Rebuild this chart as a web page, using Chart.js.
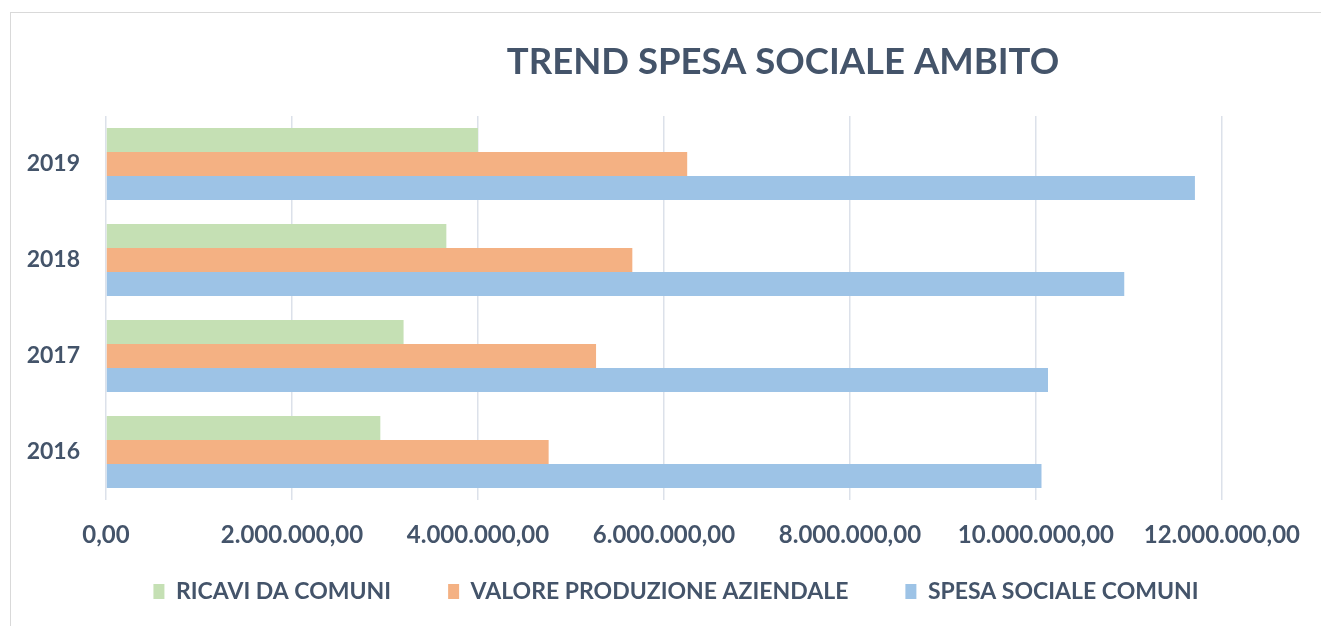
<!DOCTYPE html>
<html>
<head>
<meta charset="utf-8">
<script src="https://cdn.jsdelivr.net/npm/chart.js@4.4.1/dist/chart.umd.min.js"></script>
<style>
  html, body { margin: 0; padding: 0; background: #fff; }
  #wrap { position: relative; width: 1321px; height: 626px; }
  #frame { position: absolute; left: 10px; top: 12px; width: 1400px; height: 700px; border: 1px solid #D9D9D9; box-sizing: border-box; pointer-events: none; }
  canvas { position: absolute; left: 0; top: 0; }
</style>
</head>
<body>
<div id="wrap">
  <canvas id="c" width="1321" height="626"></canvas>
  <div id="frame"></div>
</div>
<script>
const chartTitle = 'TREND SPESA SOCIALE AMBITO';
const categories = ['2016', '2017', '2018', '2019'];
const seriesNames = ['RICAVI DA COMUNI', 'VALORE PRODUZIONE AZIENDALE', 'SPESA SOCIALE COMUNI'];
const ricaviDaComuni = [2950000, 3200000, 3660000, 4000000];
const valoreProduzioneAziendale = [4760000, 5270000, 5660000, 6250000];
const spesaSocialeComuni = [10060000, 10130000, 10950000, 11710000];
const xTicks = [0, 2000000, 4000000, 6000000, 8000000, 10000000, 12000000];

const TEXT = '#44546A';
const FONT = 'Lato, "Open Sans", sans-serif';

function fmtIt(v) {
  const neg = v < 0;
  const s = Math.round(Math.abs(v) * 100);
  let intPart = String(Math.floor(s / 100));
  const dec = String(s % 100).padStart(2, '0');
  intPart = intPart.replace(/\B(?=(\d{3})+(?!\d))/g, '.');
  return (neg ? '-' : '') + intPart + ',' + dec;
}

const titlePlugin = {
  id: 'customTitle',
  afterDraw(chart) {
    const ctx = chart.ctx;
    ctx.save();
    ctx.font = 'bold 36.5px ' + FONT;
    ctx.fillStyle = TEXT;
    ctx.textAlign = 'center';
    ctx.textBaseline = 'alphabetic';
    ctx.fillText(chartTitle, 783, 74);
    ctx.restore();
  }
};

// place the library legend: centred around x=676, items starting at y=580
const legendPlacement = {
  id: 'legendPlacement',
  beforeDraw(chart) {
    const lg = chart.legend;
    if (!lg) return;
    const pad = lg.options.labels.padding;
    lg.left = 0; lg.right = 1352; lg.width = 1352;
    lg.top = 580 - pad; lg.bottom = chart.height; lg.height = lg.bottom - lg.top;
  }
};

new Chart(document.getElementById('c'), {
  type: 'bar',
  data: {
    labels: categories,
    datasets: [
      { label: seriesNames[0], data: ricaviDaComuni, backgroundColor: '#C5E0B4' },
      { label: seriesNames[1], data: valoreProduzioneAziendale, backgroundColor: '#F4B183' },
      { label: seriesNames[2], data: spesaSocialeComuni, backgroundColor: '#9DC3E6' }
    ]
  },
  plugins: [titlePlugin, legendPlacement],
  options: {
    indexAxis: 'y',
    responsive: false,
    animation: false,
    devicePixelRatio: 1,
    categoryPercentage: 0.75,
    barPercentage: 1.0,
    layout: { padding: { top: 116, right: 96, left: 0, bottom: 14 } },
    scales: {
      x: {
        min: 0,
        max: 12000000,
        afterBuildTicks(scale) { scale.ticks = xTicks.map(v => ({ value: v })); },
        afterFit(scale) { scale.height = 60; },
        grid: { color: '#DCE1EA', lineWidth: 1.5, drawTicks: false },
        border: { display: false },
        ticks: {
          padding: 21,
          color: TEXT,
          font: { family: FONT, size: 24, weight: 'bold' },
          maxRotation: 0,
          autoSkip: false,
          callback: (v) => fmtIt(v)
        }
      },
      y: {
        reverse: true,
        afterFit(scale) { scale.width = 106; },
        grid: { display: false, drawTicks: false },
        border: { display: false },
        ticks: {
          padding: 26,
          color: TEXT,
          font: { family: FONT, size: 23, weight: 'bold' }
        }
      }
    },
    plugins: {
      title: { display: false },
      tooltip: { enabled: false },
      legend: {
        position: 'bottom',
        maxHeight: 52,
        labels: {
          boxWidth: 11,
          boxHeight: 15,
          padding: 57,
          color: TEXT,
          font: { family: FONT, size: 23, weight: 'bold' }
        }
      }
    }
  }
});
</script>
</body>
</html>
